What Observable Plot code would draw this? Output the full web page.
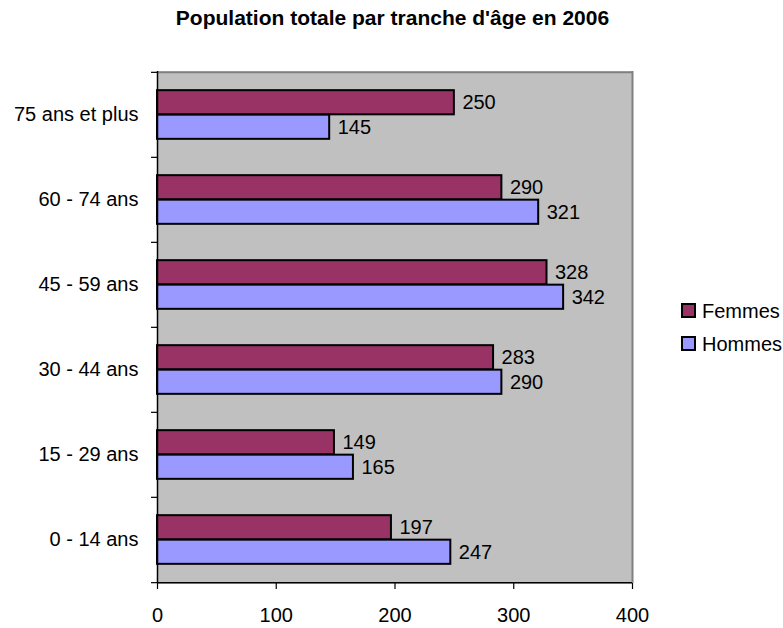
<!DOCTYPE html>
<html>
<head>
<meta charset="utf-8">
<script src="https://cdn.jsdelivr.net/npm/d3@7"></script>
<script src="https://cdn.jsdelivr.net/npm/@observablehq/plot@0.6"></script>
<style>
  body { margin: 0; background: #fff; font-family: "Liberation Sans", Arial, sans-serif; color: #000; }
  #wrap { position: relative; width: 783px; height: 628px; overflow: hidden; }
  #chart { position: absolute; left: 0; top: 0; }
  #title { position: absolute; left: 1px; top: 7px; width: 783px; text-align: center;
           font-weight: bold; font-size: 21px; line-height: 21px; }
  .legend-item { position: absolute; left: 681px; font-size: 20px; line-height: 20px; white-space: nowrap; }
  .legend-swatch { position: absolute; left: 0; width: 11px; height: 11px; border: 2px solid #000; }
  .legend-label { position: absolute; left: 21px; top: 0; }
</style>
</head>
<body>
<div id="wrap">
  <div id="chart"></div>
  <div id="title">Population totale par tranche d'âge en 2006</div>
  <div id="legend"></div>
</div>
<script>
// Age groups, top to bottom
const ageGroups = ["75 ans et plus", "60 - 74 ans", "45 - 59 ans", "30 - 44 ans", "15 - 29 ans", "0 - 14 ans"];
// Population by sex for each age group
const femmes = [250, 290, 328, 283, 149, 197];
const hommes = [145, 321, 342, 290, 165, 247];
// Series names and colours
const seriesNames = ["Femmes", "Hommes"];
const seriesColors = ["#993366", "#9999FF"];
// Value axis
const xDomain = [0, 400];
const xTicks = [0, 100, 200, 300, 400];

const rows = ageGroups.map((age, i) => ({age, femmes: femmes[i], hommes: hommes[i]}));

const W = 783, H = 628;
const mTop = 71, mBottom = 45, mLeft = 157, mRight = 151;
const band = (H - mTop - mBottom) / ageGroups.length;
const barH = 24.5;
const last = ageGroups[ageGroups.length - 1];

const chart = Plot.plot({
  width: W,
  height: H,
  marginTop: mTop,
  marginBottom: mBottom,
  marginLeft: mLeft,
  marginRight: mRight,
  style: {fontFamily: "'Liberation Sans', Arial, sans-serif", fontSize: "20px", color: "#000", background: "transparent"},
  x: {domain: xDomain, label: null},
  y: {domain: ageGroups, padding: 0, label: null},
  marks: [
    // grey plot area
    Plot.frame({fill: "#C0C0C0", stroke: "none"}),
    Plot.ruleY([ageGroups[0]], {dy: -band / 2, stroke: "#808080", strokeWidth: 2}),
    Plot.ruleX([xDomain[1]], {stroke: "#808080", strokeWidth: 2}),
    // bars
    Plot.barX(rows, {x: "femmes", y: "age", fill: seriesColors[0], stroke: "#000", strokeWidth: 2,
      insetTop: band / 2 - barH, insetBottom: band / 2}),
    Plot.barX(rows, {x: "hommes", y: "age", fill: seriesColors[1], stroke: "#000", strokeWidth: 2,
      insetTop: band / 2, insetBottom: band / 2 - barH}),
    // value labels
    Plot.text(rows, {x: "femmes", y: "age", text: d => String(d.femmes), dx: 8, dy: -barH / 2,
      textAnchor: "start", fill: "#000", fontSize: 20}),
    Plot.text(rows, {x: "hommes", y: "age", text: d => String(d.hommes), dx: 8, dy: barH / 2,
      textAnchor: "start", fill: "#000", fontSize: 20}),
    // axis lines
    Plot.ruleX([0], {stroke: "#000", strokeWidth: 1.5}),
    Plot.ruleY([last], {dy: band / 2, stroke: "#000", strokeWidth: 1.5}),
    // category ticks between groups
    Plot.ruleY(ageGroups, {x1: 0, x2: 0, insetLeft: -6, dy: -band / 2, stroke: "#000", strokeWidth: 1.2}),
    Plot.ruleY([last], {x1: 0, x2: 0, insetLeft: -6, dy: band / 2, stroke: "#000", strokeWidth: 1.2}),
    Plot.axisY({tickSize: 0, tickPadding: 19, fontSize: 20, label: null}),
    Plot.axisX({ticks: xTicks, tickSize: 6, tickPadding: 18, fontSize: 20, label: null,
      tickFormat: d => String(d), strokeWidth: 1.2})
  ]
});
document.getElementById("chart").appendChild(chart);

// legend
const legendTops = [301, 334];
const legend = document.getElementById("legend");
seriesNames.forEach((name, i) => {
  const item = document.createElement("div");
  item.className = "legend-item";
  item.style.top = legendTops[i] + "px";
  const sw = document.createElement("div");
  sw.className = "legend-swatch";
  sw.style.top = "2px";
  sw.style.background = seriesColors[i];
  const lab = document.createElement("div");
  lab.className = "legend-label";
  lab.textContent = name;
  item.appendChild(sw);
  item.appendChild(lab);
  legend.appendChild(item);
});
</script>
</body>
</html>
